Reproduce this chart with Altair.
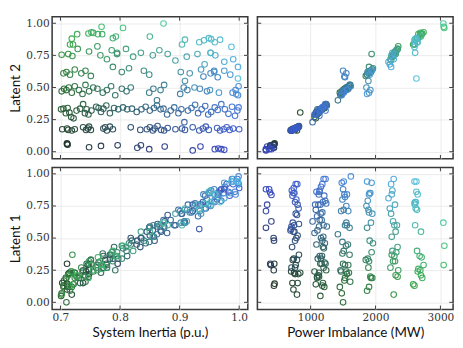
import altair as alt
import pandas as pd

# (system inertia p.u., latent 1, power imbalance MW, latent 2)
c1 = [(0.711, 0.30, 440, 0.060), (0.711, 0.145, 445, 0.065), (0.712, 0.13, 435, 0.055),
      (0.748, 0.25, 432, 0.035), (0.768, 0.29, 386, 0.045), (0.796, 0.30, 378, 0.050),
      (0.829, 0.48, 436, 0.030), (0.835, 0.50, 430, 0.050), (0.849, 0.58, 312, 0.020),
      (0.875, 0.63, 395, 0.040), (0.922, 0.71, 312, 0.010), (0.935, 0.76, 330, 0.040),
      (0.959, 0.835, 396, 0.020), (0.965, 0.855, 376, 0.025), (0.970, 0.88, 361, 0.020),
      (0.975, 0.88, 312, 0.015)]

c2 = [(0.703, 0.15, 720, 0.175), (0.711, 0.10, 735, 0.18), (0.713, 0.22, 760, 0.17),
      (0.719, 0.06, 790, 0.165), (0.724, 0.23, 745, 0.175), (0.738, 0.15, 800, 0.19),
      (0.743, 0.24, 700, 0.17), (0.746, 0.29, 770, 0.18), (0.748, 0.22, 810, 0.195),
      (0.751, 0.33, 725, 0.17), (0.772, 0.27, 760, 0.18), (0.775, 0.33, 790, 0.19),
      (0.778, 0.27, 705, 0.165), (0.783, 0.37, 820, 0.195), (0.788, 0.34, 740, 0.175),
      (0.818, 0.50, 780, 0.19), (0.834, 0.43, 715, 0.17), (0.845, 0.55, 750, 0.175),
      (0.850, 0.52, 800, 0.19), (0.855, 0.56, 690, 0.165), (0.858, 0.48, 760, 0.18),
      (0.863, 0.61, 820, 0.20), (0.869, 0.55, 735, 0.17), (0.874, 0.59, 705, 0.165),
      (0.880, 0.68, 790, 0.185), (0.893, 0.60, 745, 0.175), (0.904, 0.69, 770, 0.18),
      (0.909, 0.62, 725, 0.17), (0.922, 0.76, 800, 0.19), (0.933, 0.57, 700, 0.165),
      (0.939, 0.78, 760, 0.18), (0.944, 0.73, 815, 0.195), (0.949, 0.85, 735, 0.17),
      (0.963, 0.80, 780, 0.185), (0.968, 0.87, 710, 0.165), (0.974, 0.85, 750, 0.175),
      (0.979, 0.92, 795, 0.19), (0.984, 0.83, 720, 0.17), (0.990, 0.92, 770, 0.18),
      (1.000, 0.89, 740, 0.175), (0.715, 0.23, 840, 0.305)]

c3 = [(0.701, 0.05, 1150, 0.33), (0.705, 0.13, 1180, 0.335), (0.709, 0.19, 1100, 0.30),
      (0.712, 0.12, 1210, 0.34), (0.718, 0.24, 1060, 0.27), (0.722, 0.14, 1080, 0.26),
      (0.727, 0.20, 1130, 0.32), (0.733, 0.15, 1190, 0.335), (0.738, 0.25, 1240, 0.37),
      (0.741, 0.21, 1120, 0.30), (0.744, 0.30, 1170, 0.33), (0.747, 0.20, 1100, 0.29),
      (0.752, 0.30, 1150, 0.32), (0.760, 0.27, 1200, 0.35), (0.764, 0.31, 1215, 0.34),
      (0.768, 0.23, 1130, 0.31), (0.772, 0.36, 1175, 0.335), (0.777, 0.30, 1230, 0.36),
      (0.783, 0.34, 1110, 0.30), (0.790, 0.43, 1190, 0.34), (0.797, 0.34, 1160, 0.33),
      (0.805, 0.42, 1205, 0.345), (0.812, 0.36, 1140, 0.33), (0.820, 0.48, 1180, 0.335),
      (0.828, 0.45, 1090, 0.31), (0.836, 0.50, 1160, 0.33), (0.843, 0.46, 1220, 0.35),
      (0.850, 0.59, 1130, 0.32), (0.857, 0.51, 1195, 0.34), (0.862, 0.59, 1250, 0.36),
      (0.868, 0.56, 1105, 0.33), (0.873, 0.64, 1170, 0.335), (0.879, 0.54, 1060, 0.29),
      (0.885, 0.64, 1140, 0.32), (0.891, 0.60, 1200, 0.345), (0.898, 0.72, 1080, 0.30),
      (0.903, 0.69, 1155, 0.33), (0.908, 0.63, 1030, 0.23), (0.914, 0.76, 1120, 0.32),
      (0.920, 0.70, 1180, 0.34), (0.926, 0.77, 1240, 0.365), (0.931, 0.67, 1100, 0.30),
      (0.937, 0.76, 1150, 0.33), (0.943, 0.83, 1210, 0.355), (0.948, 0.76, 1070, 0.29),
      (0.953, 0.87, 1140, 0.31), (0.959, 0.78, 1190, 0.345), (0.964, 0.84, 1125, 0.325),
      (0.970, 0.79, 1225, 0.37), (0.976, 0.90, 1160, 0.33), (0.982, 0.86, 1090, 0.295),
      (0.988, 0.96, 1200, 0.35), (0.993, 0.86, 1135, 0.28), (0.997, 0.96, 1230, 0.32),
      (0.999, 0.92, 1180, 0.345)]

c4 = [(0.702, 0.07, 1480, 0.47), (0.706, 0.17, 1520, 0.49), (0.710, 0.00, 1500, 0.48),
      (0.714, 0.22, 1560, 0.50), (0.719, 0.12, 1450, 0.46), (0.724, 0.23, 1590, 0.51),
      (0.731, 0.19, 1530, 0.48), (0.737, 0.24, 1470, 0.45), (0.742, 0.16, 1610, 0.52),
      (0.748, 0.30, 1500, 0.47), (0.755, 0.24, 1550, 0.50), (0.762, 0.29, 1580, 0.49),
      (0.771, 0.38, 1490, 0.46), (0.778, 0.29, 1530, 0.48), (0.785, 0.37, 1600, 0.51),
      (0.792, 0.25, 1460, 0.44), (0.803, 0.44, 1545, 0.49), (0.811, 0.40, 1510, 0.47),
      (0.818, 0.45, 1575, 0.50), (0.849, 0.47, 1490, 0.46), (0.856, 0.60, 1560, 0.49),
      (0.862, 0.53, 1420, 0.40), (0.868, 0.60, 1530, 0.48), (0.874, 0.58, 1600, 0.52),
      (0.901, 0.71, 1470, 0.45), (0.907, 0.62, 1550, 0.50), (0.913, 0.72, 1510, 0.48),
      (0.934, 0.71, 1580, 0.49), (0.940, 0.84, 1520, 0.585), (0.946, 0.80, 1490, 0.47),
      (0.952, 0.75, 1550, 0.61), (0.958, 0.88, 1500, 0.63), (0.964, 0.82, 1530, 0.58),
      (0.989, 0.94, 1510, 0.46), (0.994, 0.84, 1560, 0.48), (0.998, 0.93, 1480, 0.44),
      (0.999, 0.98, 1620, 0.51)]

c5 = [(0.705, 0.12, 1900, 0.61), (0.710, 0.19, 1930, 0.62), (0.716, 0.09, 1870, 0.60),
      (0.724, 0.19, 1950, 0.64), (0.735, 0.27, 1890, 0.61), (0.742, 0.20, 1920, 0.63),
      (0.751, 0.33, 1850, 0.59), (0.788, 0.32, 1900, 0.66), (0.795, 0.39, 1940, 0.76),
      (0.803, 0.34, 1880, 0.62), (0.815, 0.46, 1960, 0.65), (0.840, 0.48, 1910, 0.63),
      (0.849, 0.58, 1870, 0.60), (0.902, 0.62, 1930, 0.62), (0.909, 0.72, 1890, 0.55),
      (0.917, 0.70, 1900, 0.61), (0.925, 0.75, 1860, 0.50), (0.936, 0.69, 1950, 0.64),
      (0.951, 0.85, 1920, 0.48), (0.958, 0.79, 1880, 0.62), (0.966, 0.84, 1900, 0.46),
      (0.975, 0.93, 1940, 0.63), (0.985, 0.85, 1910, 0.60), (0.995, 0.94, 1870, 0.45)]

c6 = [(0.702, 0.06, 2280, 0.755), (0.713, 0.21, 2310, 0.76), (0.720, 0.37, 2250, 0.745),
      (0.729, 0.20, 2340, 0.80), (0.748, 0.32, 2300, 0.78), (0.762, 0.25, 2350, 0.82),
      (0.767, 0.32, 2270, 0.75), (0.778, 0.27, 2230, 0.72), (0.786, 0.39, 2320, 0.79),
      (0.795, 0.36, 2290, 0.77), (0.810, 0.43, 2340, 0.80), (0.822, 0.40, 2260, 0.74),
      (0.835, 0.55, 2310, 0.77), (0.855, 0.51, 2250, 0.75), (0.866, 0.60, 2330, 0.79),
      (0.880, 0.60, 2290, 0.76), (0.893, 0.69, 2240, 0.71), (0.912, 0.63, 2270, 0.74),
      (0.930, 0.76, 2300, 0.76), (0.942, 0.73, 2220, 0.68), (0.952, 0.87, 2260, 0.77),
      (0.960, 0.84, 2250, 0.75), (0.975, 0.81, 2200, 0.70), (0.990, 0.96, 2280, 0.72),
      (0.998, 0.92, 2240, 0.66)]

c7 = [(0.716, 0.13, 2600, 0.835), (0.719, 0.24, 2650, 0.88), (0.721, 0.14, 2580, 0.835),
      (0.728, 0.21, 2700, 0.915), (0.747, 0.19, 2720, 0.92), (0.752, 0.29, 2740, 0.93),
      (0.755, 0.25, 2690, 0.925), (0.763, 0.35, 2710, 0.915), (0.770, 0.26, 2660, 0.915),
      (0.788, 0.40, 2640, 0.884), (0.793, 0.36, 2680, 0.896), (0.850, 0.55, 2700, 0.896),
      (0.904, 0.60, 2610, 0.835), (0.909, 0.73, 2620, 0.872), (0.933, 0.72, 2640, 0.852),
      (0.941, 0.77, 2600, 0.867), (0.949, 0.86, 2630, 0.884), (0.953, 0.76, 2610, 0.876),
      (0.959, 0.84, 2650, 0.852), (0.968, 0.78, 2620, 0.872), (0.987, 0.94, 2600, 0.816),
      (0.952, 0.78, 2610, 0.77), (0.998, 0.94, 2630, 0.57)]

c8 = [(0.769, 0.29, 3050, 0.973), (0.805, 0.44, 3060, 0.964), (0.873, 0.62, 3045, 0.998)]

inertia_ticks = [0.7, 0.8, 0.9, 1.0]
power_ticks = [1000, 2000, 3000]
latent_ticks = [0.0, 0.25, 0.5, 0.75, 1.0]

rows = [r for g in (c1, c2, c3, c4, c5, c6, c7, c8) for r in g]
df = pd.DataFrame(rows, columns=["inertia", "latent1", "power", "latent2"])

# 2D colour map: inertia (low->high) x power imbalance (low->high)
C00 = (0x1d, 0x2d, 0x22)  # low inertia, low power
C10 = (0x38, 0x47, 0xcf)  # high inertia, low power
C01 = (0x3d, 0xba, 0x4a)  # low inertia, high power
C11 = (0x5c, 0xd6, 0xe6)  # high inertia, high power


def mix(i, p):
    u = min(max((i - 0.7) / 0.3, 0), 1)
    v = min(max((p - 300) / 2750, 0), 1)
    c = [C00[k] * (1 - u) * (1 - v) + C10[k] * u * (1 - v) + C01[k] * (1 - u) * v + C11[k] * u * v
         for k in range(3)]
    return "#%02x%02x%02x" % tuple(int(round(x)) for x in c)


df["color"] = [mix(i, p) for i, p in zip(df["inertia"], df["power"])]

W, H = 204, 148
FRAME = "#3a3a3a"
TL = 4

sx_in = alt.Scale(domain=[0.686, 1.0145], nice=False, zero=False)
sx_pi = alt.Scale(domain=[180, 3195], nice=False, zero=False)
sy = alt.Scale(domain=[-0.055, 1.05], nice=False, zero=False)


def panel(xfield, xscale, xticks, xfmt, xtitle, yfield, ytitle, show_x, show_y):
    xkw = dict(values=xticks, grid=True, ticks=False, domain=False, labelOverlap=False)
    if show_x:
        xkw.update(format=xfmt, title=xtitle)
    else:
        xkw.update(labels=False, title="")
    ykw = dict(values=latent_ticks, grid=True, ticks=False, domain=False, labelOverlap=False)
    if show_y:
        ykw.update(format=".2f", title=ytitle)
    else:
        ykw.update(labels=False, title="")
    xenc = alt.X(f"{xfield}:Q", scale=xscale, axis=alt.Axis(**xkw))
    yenc = alt.Y(f"{yfield}:Q", scale=sy, axis=alt.Axis(**ykw))
    pts = alt.Chart(df).mark_point(filled=False, size=34, strokeWidth=1.1, opacity=0.95).encode(
        x=xenc, y=yenc, color=alt.Color("color:N", scale=None),
    )
    xt = pd.DataFrame({xfield: xticks})
    yt = pd.DataFrame({yfield: latent_ticks})
    layers = [pts]
    for a, b in ((H, H - TL), (0, TL)):
        layers.append(alt.Chart(xt).mark_rule(color=FRAME, strokeWidth=1).encode(
            x=xenc, y=alt.value(a), y2=alt.value(b)))
    for a, b in ((0, TL), (W, W - TL)):
        layers.append(alt.Chart(yt).mark_rule(color=FRAME, strokeWidth=1).encode(
            y=yenc, x=alt.value(a), x2=alt.value(b)))
    return alt.layer(*layers).properties(width=W, height=H)


tl = panel("inertia", sx_in, inertia_ticks, ".1f", "System Inertia (p.u.)", "latent2", "Latent 2", False, True)
tr = panel("power", sx_pi, power_ticks, "d", "Power Imbalance (MW)", "latent2", "Latent 2", False, False)
bl = panel("inertia", sx_in, inertia_ticks, ".1f", "System Inertia (p.u.)", "latent1", "Latent 1", True, True)
br = panel("power", sx_pi, power_ticks, "d", "Power Imbalance (MW)", "latent1", "Latent 1", True, False)

chart = alt.vconcat(
    alt.hconcat(tl, tr, spacing=6),
    alt.hconcat(bl, br, spacing=6),
    spacing=5,
).properties(padding=0).configure_view(
    stroke=FRAME, strokeWidth=1.6
).configure_axis(
    gridColor="#e6e6e6", gridWidth=0.8,
    labelFont="DejaVu Serif", labelFontSize=11, labelColor="#333333",
    labelPadding=3, labelOverlap=False,
    titleFont="Lato", titleFontSize=14, titleFontWeight="normal", titleColor="#111111",
    titlePadding=3,
)

chart.save("out.html", embed_options={"renderer": "svg", "actions": False})
